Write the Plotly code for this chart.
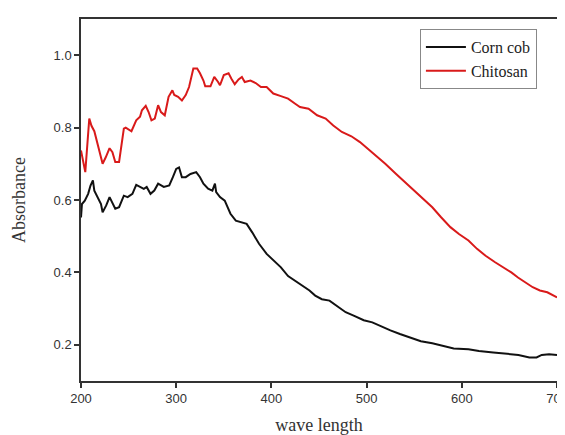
import plotly.graph_objects as go

# Chitosan spectrum (wavelength nm, absorbance)
chitosan_wl = [200, 204.5, 208.7, 211, 214, 218, 222.7, 226, 230, 233, 236, 240, 245, 247, 253, 258, 262,
               264, 268, 271, 274, 277.5, 281, 284, 288, 292, 296, 298, 302, 306, 310, 313.5, 318, 322,
               325, 328.6, 330.5, 336, 340, 344, 346, 350, 355, 358, 361.5, 365.5, 369, 372, 378, 383.5,
               389, 395, 402, 410, 417.5, 425, 430, 439, 448, 457, 465, 474, 484, 493, 501, 510, 519.6,
               531, 540, 550, 559, 569, 578, 588, 597, 607, 616, 625, 635, 644, 652, 659, 667, 674.5,
               682, 689.8, 700]
chitosan_abs = [0.737, 0.677, 0.825, 0.805, 0.79, 0.745, 0.70, 0.718, 0.743, 0.732, 0.705, 0.705, 0.797, 0.80,
                0.79, 0.82, 0.83, 0.848, 0.86, 0.843, 0.82, 0.825, 0.862, 0.843, 0.834, 0.885, 0.903, 0.89,
                0.885, 0.875, 0.89, 0.912, 0.963, 0.963, 0.95, 0.93, 0.914, 0.914, 0.94, 0.926, 0.917,
                0.945, 0.95, 0.935, 0.92, 0.933, 0.94, 0.926, 0.93, 0.923, 0.912, 0.912, 0.894, 0.887,
                0.88, 0.866, 0.857, 0.852, 0.834, 0.825, 0.806, 0.788, 0.776, 0.76, 0.742, 0.723, 0.70,
                0.672, 0.65, 0.626, 0.603, 0.58, 0.553, 0.525, 0.506, 0.488, 0.465, 0.446, 0.428, 0.414,
                0.40, 0.386, 0.373, 0.359, 0.35, 0.345, 0.331]

# Corn cob spectrum
corn_wl = [200, 201, 204, 207.5, 210, 212.5, 214, 217, 221, 222.7, 226.5, 230, 233, 236, 240, 245, 249,
           254, 258, 262, 266, 269, 273, 277, 281, 287, 292.7, 296.5, 300, 303, 306, 310, 315, 321, 325,
           328.6, 333.5, 338, 340.7, 342, 346, 351, 357, 362.6, 368, 374, 380, 387, 395, 402, 410, 417.5,
           425, 432.6, 440, 446, 453, 461, 468.5, 478, 487, 497, 506, 516, 525, 535, 546, 557, 569, 580,
           591.5, 607, 618, 633, 648, 659.5, 671, 678.5, 684, 691.7, 700]
corn_abs = [0.552, 0.589, 0.598, 0.617, 0.64, 0.654, 0.626, 0.608, 0.589, 0.566, 0.585, 0.608, 0.594, 0.576,
            0.58, 0.612, 0.608, 0.617, 0.642, 0.636, 0.631, 0.636, 0.617, 0.626, 0.645, 0.636, 0.64, 0.663,
            0.686, 0.69, 0.663, 0.663, 0.672, 0.677, 0.663, 0.645, 0.631, 0.626, 0.645, 0.622, 0.608, 0.598,
            0.562, 0.543, 0.539, 0.534, 0.51, 0.479, 0.451, 0.433, 0.414, 0.39, 0.377, 0.363, 0.35, 0.336,
            0.326, 0.322, 0.308, 0.29, 0.28, 0.268, 0.262, 0.25, 0.24, 0.23, 0.22, 0.21, 0.204, 0.197, 0.19,
            0.188, 0.183, 0.179, 0.176, 0.172, 0.165, 0.165, 0.172, 0.174, 0.172]

x_ticks = [200, 300, 400, 500, 600, 700]
y_ticks = [0.2, 0.4, 0.6, 0.8, 1.0]

fig = go.Figure()
fig.add_trace(go.Scatter(x=corn_wl, y=corn_abs, mode="lines", name="Corn cob",
                         line=dict(color="#111111", width=2)))
fig.add_trace(go.Scatter(x=chitosan_wl, y=chitosan_abs, mode="lines", name="Chitosan",
                         line=dict(color="#d91a1a", width=2)))

axis_common = dict(showline=True, linecolor="#333333", linewidth=1.5, mirror=True,
                   ticks="outside", ticklen=5, tickwidth=1.5, tickcolor="#333333",
                   showgrid=False, zeroline=False, automargin=False,
                   ticklabeloverflow="allow",
                   tickfont=dict(family="Liberation Sans, Arial", size=13, color="#333333"))

fig.update_xaxes(range=[200, 700], tickvals=x_ticks, ticktext=[str(v) for v in x_ticks],
                 title=dict(text="wave length", font=dict(family="Liberation Serif, Times New Roman",
                                                          size=18, color="#333333"), standoff=21),
                 **axis_common)
fig.update_yaxes(range=[0.1, 1.1], tickvals=y_ticks, ticktext=[f"{v:.1f}" for v in y_ticks],
                 title=dict(text="Absorbance", font=dict(family="Liberation Serif, Times New Roman",
                                                         size=18, color="#333333"), standoff=23),
                 **axis_common)

# page body has an 8px default margin, so the figure is sized to fit the 565x435 window
fig.update_layout(
    width=557, height=427,
    margin=dict(l=73, r=8, t=11, b=54),
    paper_bgcolor="white", plot_bgcolor="white",
    showlegend=True,
    legend=dict(x=0.712, y=0.972, xanchor="left", yanchor="top",
                bordercolor="#888888", borderwidth=1, bgcolor="white",
                itemwidth=40,
                font=dict(family="Liberation Serif, Times New Roman", size=16, color="#222222"),
                tracegroupgap=0),
)

fig.write_html("out.html")
